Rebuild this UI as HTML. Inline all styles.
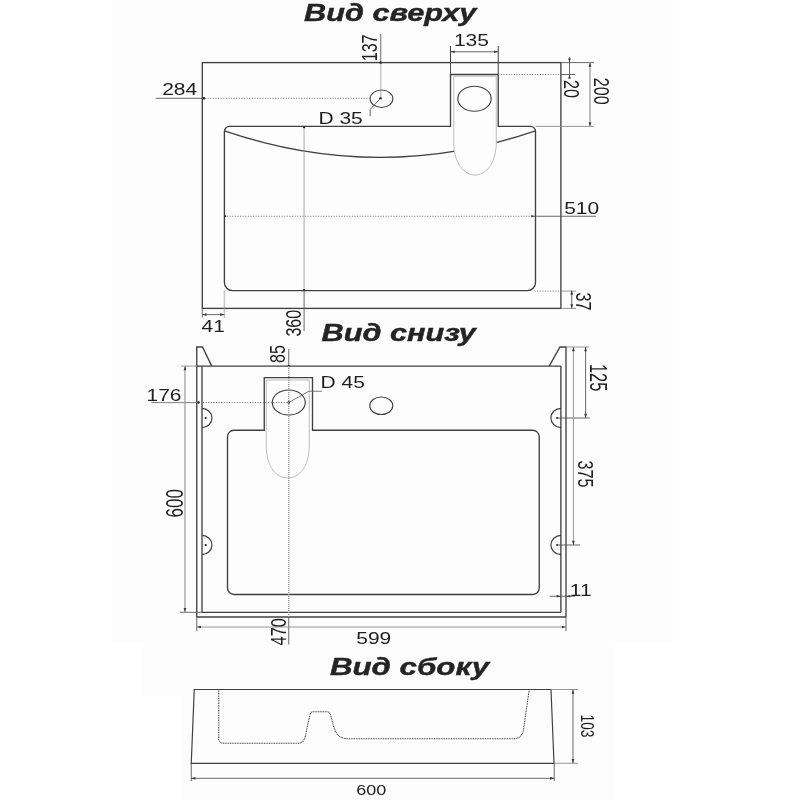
<!DOCTYPE html>
<html><head><meta charset="utf-8"><title>Sink drawing</title>
<style>
html,body{margin:0;padding:0;background:#fff;}
body{width:800px;height:800px;overflow:hidden;}
svg{display:block;font-family:"Liberation Sans",sans-serif;}
</style></head><body>
<svg width="800" height="800" viewBox="0 0 800 800">
<rect x="0" y="0" width="800" height="800" fill="#ffffff"/>
<rect x="112" y="0" width="561" height="643" fill="#fdfdfd"/>
<rect x="141" y="644" width="474" height="52" fill="#fdfdfd"/>
<rect x="181" y="696" width="434" height="104" fill="#fdfdfd"/>
<g opacity="0.999">
<text transform="translate(304.0,21.0) scale(1.335,1)" font-size="23.0" font-weight="bold" font-style="italic" fill="#242424" stroke="#242424" stroke-width="0.4">Вид сверху</text>
<rect x="202.3" y="62.6" width="358.59999999999997" height="245.79999999999998" fill="none" stroke="#404040" stroke-width="1.35"/>
<path d="M224.4,130.9 Q380,184 535.5,130.9" stroke="#404040" stroke-width="1.2" fill="none"/>
<path d="M453.75,76.25 H496.25 V142.5 C496.25,163 486,175 475,175 C464,175 453.75,163 453.75,142.5 Z" stroke="#bcbcbc" stroke-width="1.0" fill="#fdfdfd"/>
<path d="M229.4,126.4 H450.5 V74.5 H498.25 V126.4 H530.5 A5,5 0 0 1 535.5,131.4 V282.6 A8,8 0 0 1 527.5,290.6 H232.4 A8,8 0 0 1 224.4,282.6 V131.4 A5,5 0 0 1 229.4,126.4" stroke="#404040" stroke-width="1.35" fill="none"/>
<ellipse cx="474.5" cy="98.75" rx="16.7" ry="12.5" stroke="#404040" stroke-width="1.15" fill="none"/>
<ellipse cx="381.5" cy="98.75" rx="11.4" ry="8.75" stroke="#404040" stroke-width="1.1" fill="none"/>
<path d="M380.5,98.3 L370.2,109.4 V116.2" stroke="#555" stroke-width="0.9" fill="none"/>
<circle cx="380.5" cy="98.3" r="1.2" fill="#1e1e1e"/>
<text transform="translate(318.4,123.75) scale(1.265,1)" font-size="16.6" fill="#1e1e1e">D 35</text>
<line x1="380.75" y1="34" x2="380.75" y2="62.5" stroke="#585858" stroke-width="0.9"/>
<line x1="380.75" y1="62.5" x2="380.75" y2="98" stroke="#909090" stroke-width="1.5" stroke-dasharray="1 1"/>
<circle cx="380.75" cy="62.6" r="1.2" fill="#1e1e1e"/>
<text transform="translate(377.3,61.3) scale(1.36,1) rotate(-90)" font-size="16.1" fill="#1e1e1e">137</text>
<line x1="155.75" y1="98.3" x2="202.5" y2="98.3" stroke="#585858" stroke-width="0.9"/>
<circle cx="204" cy="98.3" r="1.2" fill="#1e1e1e"/>
<line x1="205" y1="98.3" x2="370" y2="98.3" stroke="#7c7c7c" stroke-width="1.0" stroke-dasharray="1.1 1.5"/>
<text transform="translate(162.2,95.45) scale(1.265,1)" font-size="16.6" fill="#1e1e1e">284</text>
<line x1="450.5" y1="46" x2="450.5" y2="62.6" stroke="#404040" stroke-width="1.0"/>
<line x1="498.25" y1="46" x2="498.25" y2="62.6" stroke="#404040" stroke-width="1.0"/>
<line x1="450.5" y1="62.6" x2="450.5" y2="74.5" stroke="#4a4a4a" stroke-width="1.05"/>
<line x1="498.25" y1="62.6" x2="498.25" y2="74.5" stroke="#4a4a4a" stroke-width="1.05"/>
<line x1="450.5" y1="51.75" x2="498.25" y2="51.75" stroke="#585858" stroke-width="0.9"/>
<polygon points="450.50,51.75 454.70,50.40 454.70,53.10" fill="#3a3a3a"/>
<polygon points="498.25,51.75 494.05,50.40 494.05,53.10" fill="#3a3a3a"/>
<text transform="translate(453.9,45.5) scale(1.265,1)" font-size="16.6" fill="#1e1e1e">135</text>
<line x1="498.25" y1="74.5" x2="560.9" y2="74.5" stroke="#7c7c7c" stroke-width="1.0" stroke-dasharray="1.1 1.5"/>
<line x1="560.9" y1="74.5" x2="575" y2="74.5" stroke="#585858" stroke-width="0.9"/>
<line x1="569.5" y1="57" x2="569.5" y2="77" stroke="#585858" stroke-width="0.9"/>
<polygon points="569.50,62.60 568.15,58.40 570.85,58.40" fill="#3a3a3a"/>
<polygon points="569.50,74.50 568.15,78.70 570.85,78.70" fill="#3a3a3a"/>
<text transform="translate(564.0,80.0) scale(1.36,1) rotate(90)" font-size="16.1" fill="#1e1e1e">20</text>
<line x1="560.9" y1="62.6" x2="594" y2="62.6" stroke="#585858" stroke-width="0.9"/>
<line x1="535.5" y1="126.4" x2="594" y2="126.4" stroke="#8a8a8a" stroke-width="0.9"/>
<line x1="590" y1="62.6" x2="590" y2="126.4" stroke="#9c9c9c" stroke-width="1.3"/>
<polygon points="590.00,62.60 588.65,66.80 591.35,66.80" fill="#3a3a3a"/>
<polygon points="590.00,126.40 588.65,122.20 591.35,122.20" fill="#3a3a3a"/>
<text transform="translate(593.8,77.8) scale(1.36,1) rotate(90)" font-size="16.1" fill="#1e1e1e">200</text>
<line x1="224.4" y1="216.25" x2="535.5" y2="216.25" stroke="#7c7c7c" stroke-width="1.0" stroke-dasharray="1.1 1.5"/>
<line x1="535.5" y1="216.25" x2="596" y2="216.25" stroke="#585858" stroke-width="0.9"/>
<circle cx="225.20000000000002" cy="216.25" r="1.1" fill="#1e1e1e"/>
<polygon points="535.50,216.25 531.30,214.90 531.30,217.60" fill="#404040"/>
<text transform="translate(564.2,213.75) scale(1.265,1)" font-size="16.6" fill="#1e1e1e">510</text>
<line x1="304.1" y1="126.4" x2="304.1" y2="290.6" stroke="#909090" stroke-width="1.5" stroke-dasharray="1 1"/>
<line x1="304.1" y1="290.6" x2="304.1" y2="331" stroke="#585858" stroke-width="0.9"/>
<circle cx="304.1" cy="127.2" r="1.1" fill="#1e1e1e"/>
<circle cx="304.1" cy="290.0" r="1.1" fill="#1e1e1e"/>
<text transform="translate(300.9,336.6) scale(1.36,1) rotate(-90)" font-size="16.1" fill="#1e1e1e">360</text>
<line x1="202.3" y1="308.4" x2="202.3" y2="317.5" stroke="#585858" stroke-width="0.9"/>
<line x1="224.4" y1="290.6" x2="224.4" y2="317.5" stroke="#909090" stroke-width="1.5" stroke-dasharray="1 1"/>
<line x1="202.3" y1="314.6" x2="224.4" y2="314.6" stroke="#585858" stroke-width="0.9"/>
<polygon points="202.30,314.60 206.50,313.25 206.50,315.95" fill="#3a3a3a"/>
<polygon points="224.40,314.60 220.20,313.25 220.20,315.95" fill="#3a3a3a"/>
<text transform="translate(201.5,331.75) scale(1.265,1)" font-size="16.6" fill="#1e1e1e">41</text>
<line x1="534.5" y1="291.1" x2="560.9" y2="291.1" stroke="#7c7c7c" stroke-width="1.0" stroke-dasharray="1.1 1.5"/>
<line x1="560.9" y1="291.1" x2="576" y2="291.1" stroke="#8a8a8a" stroke-width="0.9"/>
<line x1="560.9" y1="308.4" x2="576" y2="308.4" stroke="#8a8a8a" stroke-width="0.9"/>
<line x1="571.75" y1="290.6" x2="571.75" y2="308.4" stroke="#585858" stroke-width="0.9"/>
<polygon points="571.75,290.60 570.40,294.80 573.10,294.80" fill="#3a3a3a"/>
<polygon points="571.75,308.40 570.40,304.20 573.10,304.20" fill="#3a3a3a"/>
<text transform="translate(576.3,292.6) scale(1.36,1) rotate(90)" font-size="16.1" fill="#1e1e1e">37</text>
<text transform="translate(321.5,341.2) scale(1.335,1)" font-size="23.0" font-weight="bold" font-style="italic" fill="#242424" stroke="#242424" stroke-width="0.4">Вид снизу</text>
<path d="M196.75,617.0 V347.0 H202.5 L211.75,366.1" stroke="#404040" stroke-width="1.35" fill="none"/>
<path d="M549.2,366.1 L560,347.0 H566.0 V617.0" stroke="#404040" stroke-width="1.35" fill="none"/>
<line x1="181" y1="366.1" x2="196.75" y2="366.1" stroke="#8a8a8a" stroke-width="0.9"/>
<line x1="196.75" y1="366.1" x2="560.9" y2="366.1" stroke="#404040" stroke-width="1.35"/>
<line x1="202.0" y1="366.1" x2="202.0" y2="612.3" stroke="#404040" stroke-width="1.35"/>
<line x1="560.9" y1="366.1" x2="560.9" y2="612.3" stroke="#404040" stroke-width="1.35"/>
<line x1="202.0" y1="612.3" x2="560.9" y2="612.3" stroke="#404040" stroke-width="1.35"/>
<line x1="196.75" y1="617.0" x2="566.0" y2="617.0" stroke="#404040" stroke-width="1.35"/>
<line x1="180" y1="612.3" x2="202.0" y2="612.3" stroke="#585858" stroke-width="0.9"/>
<path d="M266.25,380 H309.25 V446 C309.25,467 299,478 287.75,478 C276.5,478 266.25,467 266.25,446 Z" stroke="#bcbcbc" stroke-width="1.0" fill="none"/>
<path d="M234.0,430.2 H264.25 V377.6 H312.5 V430.2 H532.75 A6.5,6.5 0 0 1 539.25,436.7 V588.0 A6.5,6.5 0 0 1 532.75,594.5 H234.0 A6.5,6.5 0 0 1 227.5,588.0 V436.7 A6.5,6.5 0 0 1 234.0,430.2" stroke="#404040" stroke-width="1.35" fill="none"/>
<ellipse cx="288.75" cy="402.5" rx="16.5" ry="12.5" stroke="#404040" stroke-width="1.15" fill="none"/>
<ellipse cx="381.25" cy="405.75" rx="11.5" ry="8.75" stroke="#404040" stroke-width="1.15" fill="none"/>
<path d="M202.0,408.4 A10,9.6 0 0 1 202.0,427.6" stroke="#404040" stroke-width="1.2" fill="none"/>
<circle cx="205.7" cy="418.0" r="1.1" fill="#1e1e1e"/>
<path d="M560.9,408.4 A10,9.6 0 0 0 560.9,427.6" stroke="#404040" stroke-width="1.2" fill="none"/>
<circle cx="557.2" cy="418.0" r="1.1" fill="#1e1e1e"/>
<path d="M202.0,535.4 A10,9.6 0 0 1 202.0,554.6" stroke="#404040" stroke-width="1.2" fill="none"/>
<circle cx="205.7" cy="545.0" r="1.1" fill="#1e1e1e"/>
<path d="M560.9,535.4 A10,9.6 0 0 0 560.9,554.6" stroke="#404040" stroke-width="1.2" fill="none"/>
<circle cx="557.2" cy="545.0" r="1.1" fill="#1e1e1e"/>
<path d="M288.75,402.5 L308.75,391.25 H322" stroke="#666" stroke-width="0.85" fill="none"/>
<circle cx="288.75" cy="402.5" r="1.3" fill="#1e1e1e"/>
<text transform="translate(320.5,388) scale(1.265,1)" font-size="16.6" fill="#1e1e1e">D 45</text>
<line x1="288.75" y1="349" x2="288.75" y2="366.1" stroke="#585858" stroke-width="0.9"/>
<circle cx="288.75" cy="366.1" r="1.2" fill="#1e1e1e"/>
<line x1="288.75" y1="366.1" x2="288.75" y2="617.0" stroke="#909090" stroke-width="1.5" stroke-dasharray="1 1"/>
<line x1="288.75" y1="617.0" x2="288.75" y2="644.5" stroke="#585858" stroke-width="0.9"/>
<text transform="translate(284.7,363.0) scale(1.36,1) rotate(-90)" font-size="16.1" fill="#1e1e1e">85</text>
<line x1="151.25" y1="402.6" x2="199" y2="402.6" stroke="#808080" stroke-width="1.0"/>
<circle cx="198.6" cy="402.5" r="1.2" fill="#1e1e1e"/>
<line x1="203" y1="402.5" x2="288" y2="402.5" stroke="#7c7c7c" stroke-width="1.0" stroke-dasharray="1.1 1.5"/>
<text transform="translate(146.5,400.75) scale(1.265,1)" font-size="16.6" fill="#1e1e1e">176</text>
<line x1="185" y1="366.1" x2="185" y2="612.3" stroke="#9a9a9a" stroke-width="1.2"/>
<polygon points="185.00,366.10 183.65,370.30 186.35,370.30" fill="#3a3a3a"/>
<polygon points="185.00,612.30 183.65,608.10 186.35,608.10" fill="#3a3a3a"/>
<text transform="translate(182.7,517.4) scale(1.36,1) rotate(-90)" font-size="17.0" fill="#1e1e1e">600</text>
<line x1="566.0" y1="347.0" x2="589" y2="347.0" stroke="#8a8a8a" stroke-width="0.9"/>
<line x1="585.6" y1="347.0" x2="585.6" y2="418" stroke="#585858" stroke-width="0.9"/>
<polygon points="585.60,347.00 584.25,351.20 586.95,351.20" fill="#3a3a3a"/>
<polygon points="585.60,418.00 584.25,413.80 586.95,413.80" fill="#3a3a3a"/>
<line x1="557.2" y1="418" x2="589.75" y2="418" stroke="#585858" stroke-width="0.9"/>
<text transform="translate(590.2,364.0) scale(1.42,1) rotate(90)" font-size="16.4" fill="#1e1e1e">125</text>
<line x1="573.4" y1="347.0" x2="573.4" y2="545" stroke="#8a8a8a" stroke-width="0.9"/>
<polygon points="573.40,347.00 572.05,351.20 574.75,351.20" fill="#3a3a3a"/>
<polygon points="573.40,545.00 572.05,540.80 574.75,540.80" fill="#3a3a3a"/>
<line x1="557.2" y1="545" x2="580" y2="545" stroke="#585858" stroke-width="0.9"/>
<text transform="translate(578.3,460.6) scale(1.36,1) rotate(90)" font-size="16.1" fill="#1e1e1e">375</text>
<line x1="549.5" y1="596.25" x2="575" y2="596.25" stroke="#585858" stroke-width="0.9"/>
<polygon points="560.90,596.25 556.70,594.90 556.70,597.60" fill="#3a3a3a"/>
<polygon points="566.00,596.25 570.20,594.90 570.20,597.60" fill="#3a3a3a"/>
<text transform="translate(569.8,595.75) scale(1.265,1)" font-size="16.6" fill="#1e1e1e">11</text>
<line x1="196.75" y1="617.0" x2="196.75" y2="631" stroke="#585858" stroke-width="0.9"/>
<line x1="566.0" y1="617.0" x2="566.0" y2="631" stroke="#585858" stroke-width="0.9"/>
<line x1="196.75" y1="627" x2="566.0" y2="627" stroke="#8a8a8a" stroke-width="0.9"/>
<polygon points="196.75,627.00 200.95,625.65 200.95,628.35" fill="#3a3a3a"/>
<polygon points="566.00,627.00 561.80,625.65 561.80,628.35" fill="#3a3a3a"/>
<text transform="translate(356.25,643.8) scale(1.265,1)" font-size="16.6" fill="#1e1e1e">599</text>
<text transform="translate(286.2,645.4) scale(1.36,1) rotate(-90)" font-size="16.3" fill="#1e1e1e">470</text>
<text transform="translate(329.9,674.6) scale(1.36,1)" font-size="23.0" font-weight="bold" font-style="italic" fill="#242424" stroke="#242424" stroke-width="0.4">Вид сбоку</text>
<path d="M194.25,689.5 H551.0 L554.0,763.3 H191.25 Z" stroke="#404040" stroke-width="1.2" fill="none"/>
<path d="M218.75,689.5 V738.5 Q218.75,743.25 223.75,743.25 H298 C305,743.25 305.5,736 307,728 L310,714.5 Q310.5,711.75 314,711.75 H327 Q329.8,711.75 330.5,715 L333.5,726 C336,735 340,738.75 349,738.75 H513 Q522,738.75 523.4,730 L529.25,689.5" stroke="#3a3a3a" stroke-width="1.05" fill="none" stroke-dasharray="1.0 0.7"/>
<line x1="191.25" y1="763.25" x2="191.25" y2="781" stroke="#585858" stroke-width="0.9"/>
<line x1="554.25" y1="763.25" x2="554.25" y2="781" stroke="#585858" stroke-width="0.9"/>
<line x1="191.25" y1="778.3" x2="554.25" y2="778.3" stroke="#585858" stroke-width="0.9"/>
<polygon points="191.25,778.30 195.45,776.95 195.45,779.65" fill="#3a3a3a"/>
<polygon points="554.25,778.30 550.05,776.95 550.05,779.65" fill="#3a3a3a"/>
<text transform="translate(356.3,795) scale(1.17,1)" font-size="15.4" fill="#1e1e1e">600</text>
<line x1="551.25" y1="689.5" x2="578" y2="689.5" stroke="#8a8a8a" stroke-width="0.9"/>
<line x1="554.25" y1="763.25" x2="578" y2="763.25" stroke="#8a8a8a" stroke-width="0.9"/>
<line x1="573" y1="689.5" x2="573" y2="763.25" stroke="#585858" stroke-width="0.9"/>
<polygon points="573.00,689.50 571.65,693.70 574.35,693.70" fill="#3a3a3a"/>
<polygon points="573.00,763.25 571.65,759.05 574.35,759.05" fill="#3a3a3a"/>
<text transform="translate(581.0,714.6) scale(1.36,1) rotate(90)" font-size="13.7" fill="#1e1e1e">103</text>
</g>
</svg>
</body></html>
